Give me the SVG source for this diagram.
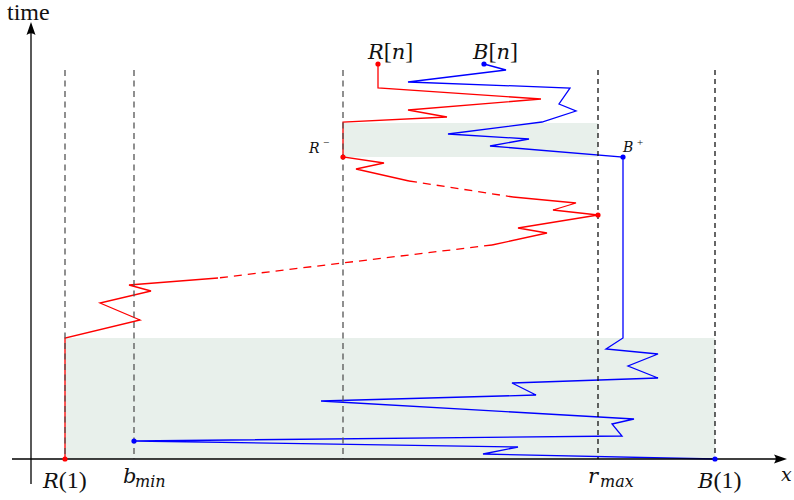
<svg xmlns="http://www.w3.org/2000/svg" width="794" height="500" viewBox="0 0 794 500">
<style>
.shade{fill:#e8f0eb;stroke:none}
.red{fill:none;stroke:#ff0000;stroke-width:1.3;stroke-linejoin:miter}
.redd{fill:none;stroke:#ff0000;stroke-width:1.3;stroke-dasharray:8 6}
.blue{fill:none;stroke:#0000ff;stroke-width:1.3;stroke-linejoin:miter}
.vg{stroke:#555;stroke-width:1.3;stroke-dasharray:6 4.5}
.vb{stroke:#000;stroke-width:1.2;stroke-dasharray:5 4}
.axis{stroke:#000;stroke-width:1.3}
text{font-family:"Liberation Serif","DejaVu Serif",serif;fill:#111}
.it{font-family:"DejaVu Serif","Liberation Serif",serif;font-style:italic}
</style>
<rect class="shade" x="65" y="338" width="650" height="121"/>
<rect class="shade" x="343" y="123" width="255" height="34"/>
<g id="connectors">
<path class="red" d="M378,64 L378,88 L541,99 L408,110 L447,117 L343,122 L343,157 L384,163 L356,169 L409,181"/>
<path class="redd" d="M409,181 L513,197"/>
<path class="red" d="M513,197 L576,203 L553,210 L598,215 L518,228 L547,233 L492,245"/>
<path class="redd" d="M492,245 L218,278"/>
<path class="red" d="M218,278 L129,285 L151,291 L100,303 L140,320 L65,338 L65,459"/>
<path class="blue" d="M484,64 L506,70 L408,82 L570,88 L559,104 L576,111 L542,122 L448,134 L529,139 L490,146 L623,157 L623,338 L606,349 L658,354 L628,366 L658,378 L512,383 L536,395 L321,401 L634,419 L612,424 L622,436 L134,441 L518,447 L483,454 L715,459"/>
</g>
<g id="guides">
<line class="vg" x1="65" y1="70" x2="65" y2="459"/>
<line class="vg" x1="134" y1="70" x2="134" y2="459"/>
<line class="vg" x1="343" y1="70" x2="343" y2="459"/>
<line class="vb" x1="598" y1="70" x2="598" y2="459"/>
<line class="vb" x1="715" y1="70" x2="715" y2="459"/>
</g>
<g id="axes">
<line class="axis" x1="12" y1="459" x2="778" y2="459"/>
<path d="M787,459 L774,454.5 Q777.5,459 774,463.5 Z" fill="#000"/>
<line class="axis" x1="31" y1="484" x2="31" y2="31"/>
<path d="M31,22 L26.5,35 Q31,31.5 35.5,35 Z" fill="#000"/>
<text x="7" y="20" font-size="24">time</text>
<text class="it" x="781" y="481" font-size="19">x</text>
</g>
<g id="R1"><circle cx="65" cy="459" r="2.6" fill="#ff0000"/><text x="43" y="488" font-size="24"><tspan class="it" font-size="21">R</tspan>(1)</text></g>
<g id="bmin"><circle cx="134" cy="441" r="2.6" fill="#0000ff"/><text class="it" x="123" y="483" font-size="21">b</text><text class="it" x="135" y="487" font-size="16">min</text></g>
<g id="Rminus"><circle cx="343" cy="157" r="2.6" fill="#ff0000"/><text class="it" x="309" y="153" font-size="14">R</text><text x="323" y="146" font-size="11">−</text></g>
<g id="rmax"><circle cx="598" cy="215" r="2.6" fill="#ff0000"/><text class="it" x="588" y="483" font-size="21">r</text><text class="it" x="600" y="487" font-size="16">max</text></g>
<g id="Bplus"><circle cx="623" cy="157" r="2.6" fill="#0000ff"/><text class="it" x="623" y="152" font-size="14">B</text><text x="637" y="146" font-size="11">+</text></g>
<g id="B1"><circle cx="715" cy="459" r="2.6" fill="#0000ff"/><text x="698" y="488" font-size="24"><tspan class="it" font-size="21">B</tspan>(1)</text></g>
<g id="Rn"><circle cx="378" cy="64" r="2.6" fill="#ff0000"/><text x="368" y="59" font-size="24"><tspan class="it" font-size="21">R</tspan>[<tspan class="it" font-size="21">n</tspan>]</text></g>
<g id="Bn"><circle cx="484" cy="64" r="2.6" fill="#0000ff"/><text x="473" y="59" font-size="24"><tspan class="it" font-size="21">B</tspan>[<tspan class="it" font-size="21">n</tspan>]</text></g>
</svg>
